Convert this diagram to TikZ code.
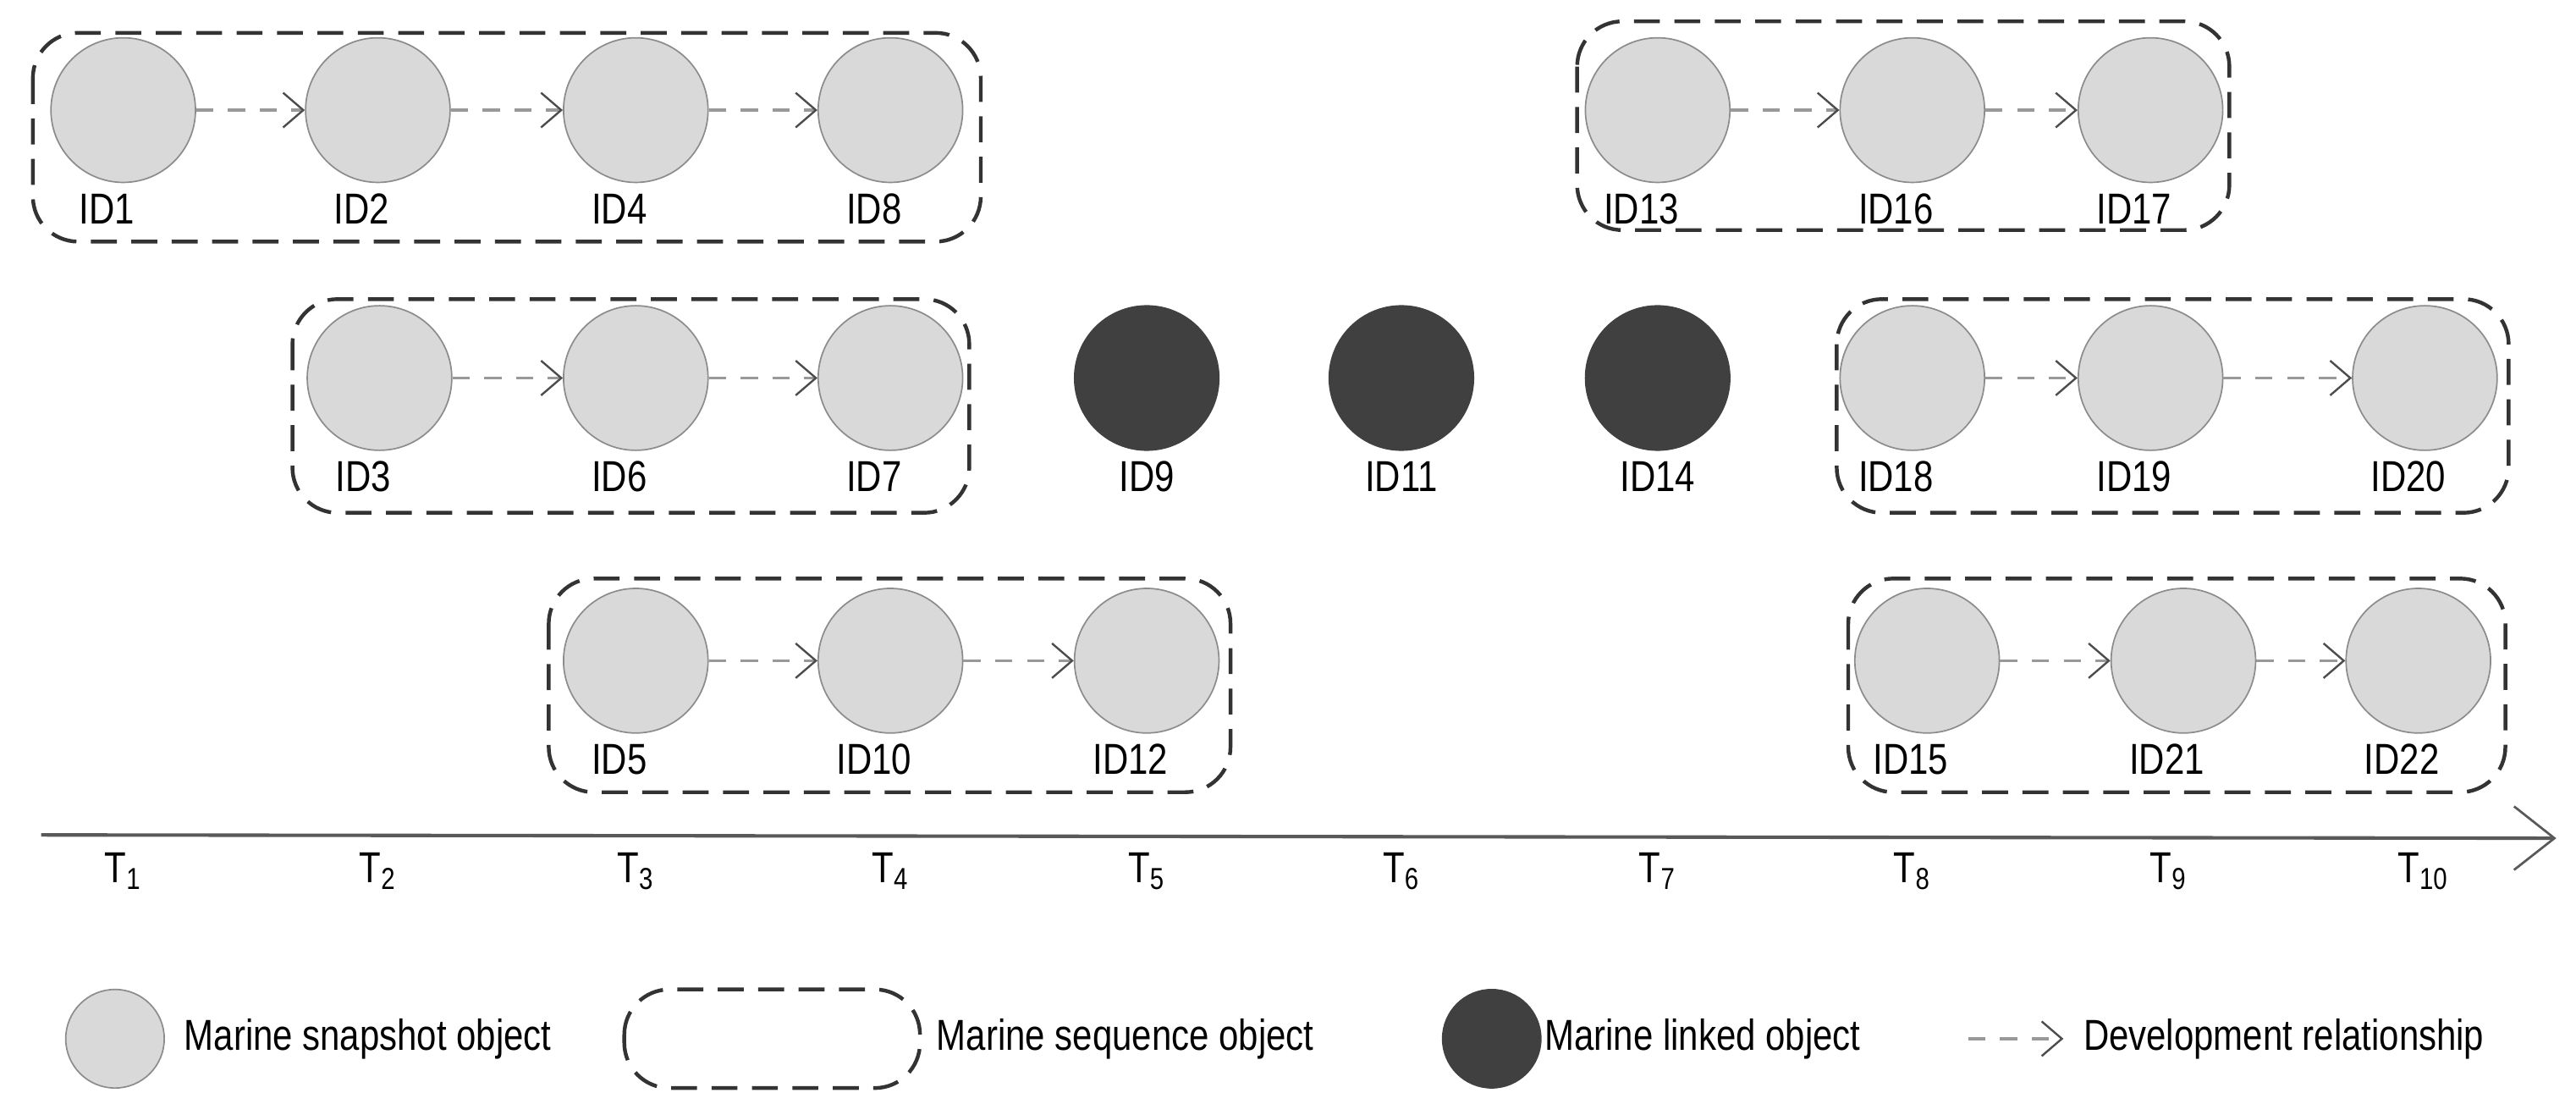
\documentclass[tikz,border=0pt]{standalone}
\usepackage{fontspec}
\setmainfont{Liberation Sans}[FakeStretch=0.82]
\usetikzlibrary{arrows.meta}
\begin{document}
\begin{tikzpicture}[x=0.02cm,y=-0.02cm,
 snap/.style={circle,minimum size=1.76cm,inner sep=0,fill=black!15,draw=black!45,line width=0.5pt},
 link/.style={circle,minimum size=1.76cm,inner sep=0,fill=black!75,draw=black!75},
 lab/.style={font=\fontsize{15}{15}\selectfont},
 seq/.style={draw=black!80,line width=1.3pt,dash pattern=on 9pt off 5pt,rounded corners=0.55cm},
 dev/.style={draw=black!40,line width=1pt,dash pattern=on 6pt off 5pt,-{Straight Barb[length=7pt,width=12pt,color=black!70,line width=0.7pt]}}]
\useasboundingbox (0,0) rectangle (1568,678);
% sequence boxes
\draw[seq] (20,20) rectangle (597,147);
\draw[seq] (960,13) rectangle (1357,140);
\draw[seq] (178,182) rectangle (590,312);
\draw[seq] (1118,182) rectangle (1527,312);
\draw[seq] (334,352) rectangle (749,482);
\draw[seq] (1125,352) rectangle (1525,482);
% nodes
\foreach \n/\x/\y in {1/75/67,2/230/67,4/387/67,8/542/67,13/1009/67,16/1164/67,17/1309/67,
  3/231/230,6/387/230,7/542/230,18/1164/230,19/1309/230,20/1476/230,
  5/387/402,10/542/402,12/698/402,15/1173/402,21/1329/402,22/1472/402}
  {\node[snap] (n\n) at (\x,\y) {};
   \node[lab] (l\n) at (\x-10,\y+60) {ID\n};}
\foreach \n/\x in {9/698,11/853,14/1009}
  {\node[link] (n\n) at (\x,230) {};
   \node[lab] (l\n) at (\x,290) {ID\n};}
\foreach \a/\b in {1/2,2/4,4/8,13/16,16/17,3/6,6/7,18/19,19/20,5/10,10/12,15/21,21/22}
  \draw[dev] (n\a) -- (n\b);
% axis
\coordinate (a0) at (25,508); \coordinate (a1) at (1556,510);
\draw[black!65,line width=1.2pt,-{Straight Barb[length=14pt,width=22pt,line width=0.8pt]}] (a0) -- (a1);
\foreach \i/\x in {1/75,2/230,3/387,4/542,5/698,6/853,7/1009,8/1164,9/1320,10/1475}
  \node[lab] (t\i) at (\x,530) {T\textsubscript{\i}};
% legend
\node[snap,minimum size=1.2cm] (ls) at (70,632) {};
\node[lab,anchor=west] (lst) at (106,632) {Marine snapshot object};
\draw[seq] (380,602) rectangle (560,662);
\node[lab,anchor=west] (lqt) at (564,632) {Marine sequence object};
\node[link,minimum size=1.2cm] (ll) at (908,632) {};
\node[lab,anchor=west] (llt) at (934,632) {Marine linked object};
\coordinate (d0) at (1198,632); \coordinate (d1) at (1256,632);
\draw[dev] (d0) -- (d1);
\node[lab,anchor=west] (ldt) at (1262,632) {Development relationship};
\end{tikzpicture}
\end{document}
